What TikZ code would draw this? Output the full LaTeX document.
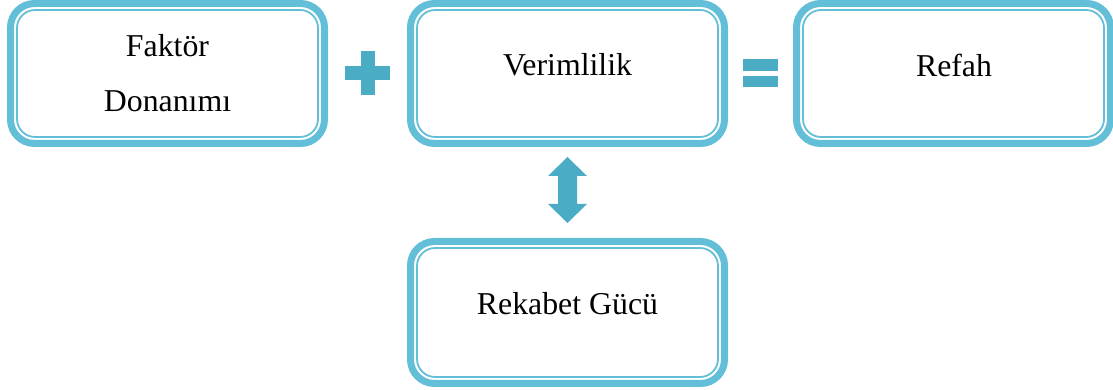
\documentclass[tikz,border=0pt]{standalone}
\usepackage{fontspec}
\setmainfont{Liberation Serif}
\definecolor{frameblue}{RGB}{99,190,216}
\definecolor{signblue}{RGB}{75,172,198}
\tikzset{
  framebox/.style={draw=frameblue, line width=7pt, rounded corners=24pt,
    minimum width=314pt, inner sep=0pt, outer sep=0pt},
  innerframe/.style={draw=frameblue, line width=1.8pt, rounded corners=18pt},
  caption/.style={anchor=base, inner sep=0pt, font=\fontsize{31.8}{36}\selectfont},
  sign/.style={fill=signblue, draw=none}
}
\begin{document}
\begin{tikzpicture}[x=1pt,y=1pt]
\useasboundingbox (0,0) rectangle (1113,390);

% three boxes of the top row and the box below
\node[framebox, minimum height=140pt] (b1) at (167.5,316.5) {};
\node[framebox, minimum height=140pt] (b2) at (567.5,316.5) {};
\node[framebox, minimum height=140pt] (b3) at (953.5,316.5) {};
\node[framebox, minimum height=142pt] (b4) at (567.5,77.5) {};

% thin inner outline of every box
\foreach \b in {b1,b2,b3,b4}
  \draw[innerframe] ([shift={(6.5,-6.5)}]\b.north west) rectangle ([shift={(-6.5,6.5)}]\b.south east);

% texts
\node[caption] (t1a) at (167.5,333) {Faktör};
\node[caption] (t1b) at (167.5,278) {Donanımı};
\node[caption] (t2) at (567.5,314) {Verimlilik};
\node[caption] (t3) at (954,313) {Refah};
\node[caption] (t4) at (567.5,75) {Rekabet Gücü};

% plus sign between the first two boxes
\fill[sign] (361,295) rectangle (375,339);
\fill[sign] (345,310) rectangle (390,324);

% equals sign between the second and third boxes
\fill[sign] (743,319) rectangle (778,331);
\fill[sign] (743,303) rectangle (778,314);

% two-headed arrow between Verimlilik and Rekabet Gücü
\fill[sign] (567.5,233) -- (587,214) -- (577,214) -- (577,186) -- (587,186)
  -- (567.5,167) -- (548,186) -- (558,186) -- (558,214) -- (548,214) -- cycle;
\end{tikzpicture}
\end{document}
